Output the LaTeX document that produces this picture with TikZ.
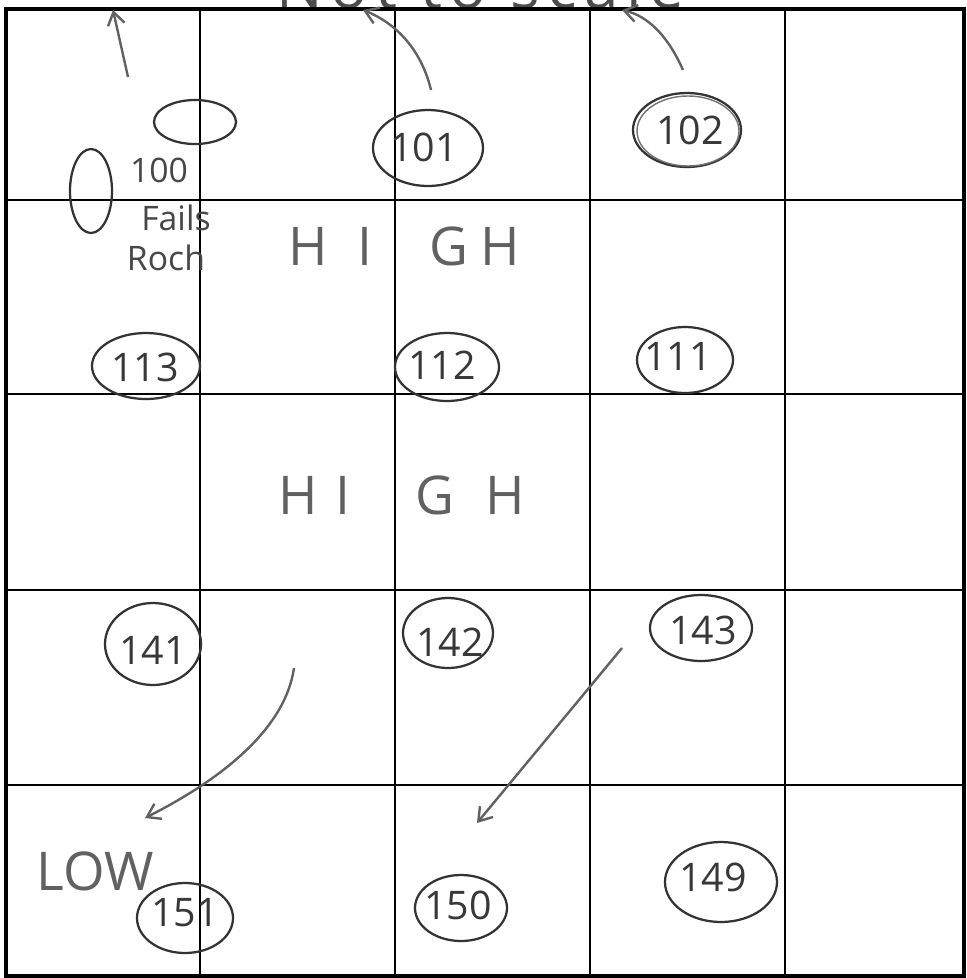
\documentclass[tikz,border=0pt]{standalone}
\usepackage{fontspec}
\setmainfont{Open Sans}
\usetikzlibrary{shapes.geometric,arrows.meta}
\begin{document}
\begin{tikzpicture}[x=0.25mm,y=-0.25mm,
  gridline/.style={line width=2pt,black},
  frameline/.style={line width=3.4pt,black},
  ring/.style 2 args={draw=black!80,line width=1.6pt,ellipse,inner sep=0pt,
     minimum width=#1*0.5mm,minimum height=#2*0.5mm},
  num/.style={text=black!78,font=\fontsize{28}{28}\selectfont,inner sep=0pt},
  big/.style={text=black!62,font=\fontsize{38}{38}\selectfont,inner sep=0pt},
  note/.style={text=black!72,font=\fontsize{24}{24}\selectfont,inner sep=0pt},
  pen/.style={draw=black!62,line width=1.7pt,-{Straight Barb[length=9pt,width=12pt,line width=1.7pt]}}]
\useasboundingbox (0,0) rectangle (967,978);
\fill[white] (0,0) rectangle (967,978);

% partially visible heading
\begin{scope}
\clip (0,0) rectangle (967,9);
\node[anchor=base,text=black!70,font=\fontsize{44}{44}\selectfont\addfontfeature{LetterSpace=12}] (head) at (480,8) {Not to scale};
\end{scope}

% grid
\foreach \x in {200,395,590,785} \draw[gridline] (\x,9) -- (\x,976);
\foreach \y in {200,394,590,785} \draw[gridline] (6,\y) -- (964,\y);
\draw[frameline] (6,9) rectangle (964,976);

% ellipses
\node[ring={41}{22}] (eblank) at (195,122) {};
\node[ring={21}{42}] (evert) at (91,191) {};
\node[ring={55}{38}] (e101) at (428,148) {};
\node[ring={54}{37}] (e102) at (687,130) {};
\node[ring={51}{35},line width=1pt,draw=black!55] (e102b) at (688,131) {};
\node[ring={54}{33}] (e113) at (146,366) {};
\node[ring={52}{34}] (e112) at (447,367) {};
\node[ring={48}{33}] (e111) at (685,360) {};
\node[ring={48}{41}] (e141) at (153,644) {};
\node[ring={45}{35}] (e142) at (448,633) {};
\node[ring={51}{33}] (e143) at (701,628) {};
\node[ring={48}{35}] (e151) at (185,918) {};
\node[ring={46}{33}] (e150) at (461,908) {};
\node[ring={56}{40}] (e149) at (721,882) {};

% numbers
\node[note] (t100) at (159,170) {100};
\node[note] (tfails) at (176,218) {Fails};
\node[note] (troch) at (166,258) {Roch};
\node[num] (t101) at (424,147) {101};
\node[num] (t102) at (690,130) {102};
\node[num] (t113) at (145,367) {113};
\node[num] (t112) at (442,365) {112};
\node[num] (t111) at (678,356) {111};
\node[num] (t141) at (153,650) {141};
\node[num] (t142) at (450,642) {142};
\node[num] (t143) at (703,630) {143};
\node[num] (t151) at (185,913) {151};
\node[num] (t150) at (458,905) {150};
\node[num] (t149) at (713,877) {149};

% words
\node[big] (h1a) at (308,246) {H};
\node[big] (h1b) at (365,246) {I};
\node[big] (h1c) at (449,246) {G};
\node[big] (h1d) at (500,246) {H};
\node[big] (h2a) at (298,495) {H};
\node[big] (h2b) at (343,495) {I};
\node[big] (h2c) at (435,495) {G};
\node[big] (h2d) at (505,495) {H};
\node[big] (low) at (95,871) {LOW};

% arrows
\coordinate (a1s) at (128,77);  \coordinate (a1e) at (113,10);
\coordinate (a2s) at (431,90);  \coordinate (a2e) at (363,10);
\coordinate (a3s) at (683,70);  \coordinate (a3e) at (622,10);
\coordinate (a4s) at (294,668); \coordinate (a4e) at (145,818);
\coordinate (a5s) at (622,648); \coordinate (a5e) at (477,823);
\draw[pen] (a1s) -- (a1e);
\draw[pen] (a2s) .. controls (422,52) and (398,24) .. (a2e);
\draw[pen] (a3s) .. controls (668,36) and (648,16) .. (a3e);
\draw[pen] (a4s) .. controls (285,730) and (220,780) .. (a4e);
\draw[pen] (a5s) -- (a5e);
\end{tikzpicture}
\end{document}
